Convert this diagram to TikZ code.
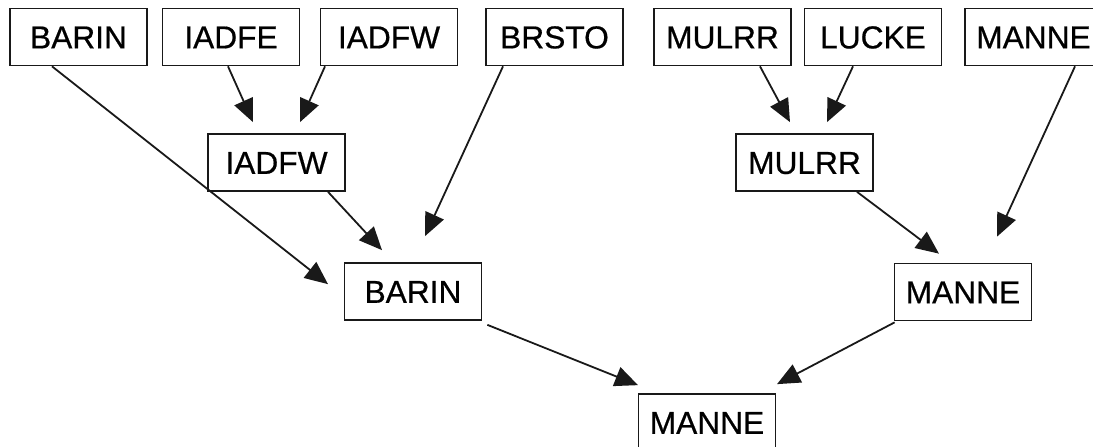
\documentclass[tikz,border=0pt]{standalone}
\usepackage{fontspec}
\setmainfont{Liberation Sans}[FakeBold=0.6]
\newfontfamily\boxfont{Liberation Sans}[FakeBold=0.6]
\usetikzlibrary{arrows.meta}
\begin{document}
\begin{tikzpicture}[x=1pt,y=-1pt,
  box/.style={draw=black!90,line width=1.7pt,fill=white,minimum width=137pt,minimum height=57pt,
    inner sep=0pt,text height=22.7pt,text depth=0pt,font=\boxfont\fontsize{31.7}{36}\selectfont},
  conn/.style={draw=black!90,line width=1.8pt,-{Triangle[length=23pt,width=20pt]}}]
\useasboundingbox (0,0) rectangle (1093,447);
\clip (0,0) rectangle (1093,447);
% top row
\node[box] (barinT) at (78.5,37) {BARIN};
\node[box] (iadfe)  at (231,37) {IADFE};
\node[box] (iadfwT) at (389,37) {IADFW};
\node[box] (brsto)  at (554.5,37) {BRSTO};
\node[box] (mulrrT) at (722.5,37) {MULRR};
\node[box] (lucke)  at (873,37) {LUCKE};
\node[box] (manneT) at (1033.5,37) {MANNE};
% middle
\node[box] (iadfwM) at (276.5,162.5) {IADFW};
\node[box] (mulrrM) at (804.5,162.5) {MULRR};
% lower
\node[box] (barinM) at (413,291.5) {BARIN};
\node[box] (manneM) at (963,292) {MANNE};
% bottom
\node[box] (manneB) at (707,422.5) {MANNE};
% connectors
\draw[conn] ([xshift=-26.5pt]barinT.south) -- ([xshift=-85pt,yshift=-22pt]barinM.north);
\draw[conn] ([xshift=-3pt]iadfe.south) -- ([xshift=-23.5pt,yshift=11pt]iadfwM.north);
\draw[conn] ([xshift=-64pt]iadfwT.south) -- ([xshift=23.5pt,yshift=11pt]iadfwM.north);
\draw[conn] ([xshift=51.5pt]iadfwM.south) -- ([xshift=-31pt,yshift=12pt]barinM.north);
\draw[conn] ([xshift=-51.5pt]brsto.south) -- ([xshift=12pt,yshift=26pt]barinM.north);
\draw[conn] ([xshift=37.5pt]mulrrT.south) -- ([xshift=-14.5pt,yshift=11pt]mulrrM.north);
\draw[conn] ([xshift=-20pt]lucke.south) -- ([xshift=22.5pt,yshift=11pt]mulrrM.north);
\draw[conn] ([xshift=52.5pt]mulrrM.south) -- ([xshift=-24pt,yshift=9pt]manneM.north);
\draw[conn] ([xshift=41.5pt]manneT.south) -- ([xshift=34pt,yshift=26pt]manneM.north);
\draw[conn] ([xshift=5pt,yshift=-4pt]barinM.south east) -- ([xshift=-69pt,yshift=8pt]manneB.north);
\draw[conn] ([xshift=1pt,yshift=-1pt]manneM.south west) -- ([xshift=70pt,yshift=9pt]manneB.north);
\end{tikzpicture}
\end{document}
